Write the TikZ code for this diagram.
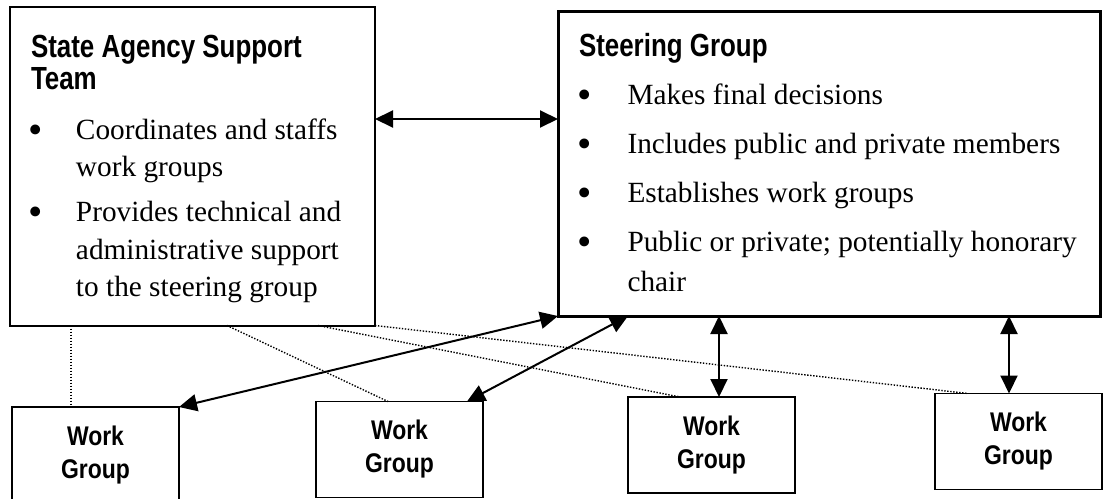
\documentclass[tikz,border=0pt]{standalone}
\usepackage{fontspec}
\setmainfont{Liberation Serif}
\newfontfamily\hfont[FakeStretch=0.81]{Liberation Sans}
\newfontfamily\wfont[FakeStretch=0.85]{Liberation Sans}
\usetikzlibrary{positioning,arrows.meta}

% text placement inside the two big boxes
\newlength{\headx}\newlength{\bulx}\newlength{\txtx}
\newcommand{\mybullet}{\raisebox{-4pt}{\scalebox{1.4}{\textbullet}}}
\newcommand{\head}[2]{\vskip#1\relax\hbox to\hsize{\smash{\kern\headx{\hfont\bfseries\fontsize{32pt}{32pt}\selectfont #2}}\hss}}
\newcommand{\bul}[2]{\vskip#1\relax\hbox to\hsize{\smash{\rlap{\kern\bulx\makebox[0pt][c]{\mybullet}}\kern\txtx #2}\hss}}
\newcommand{\cont}[2]{\vskip#1\relax\hbox to\hsize{\smash{\kern\txtx #2}\hss}}
\newcommand{\boxtext}[3]{\parbox[c][#2][t]{#1}{\offinterlineskip\fontsize{29.3pt}{38pt}\selectfont #3}}

\begin{document}
\begin{tikzpicture}[x=1pt, y=1pt, outer sep=0pt,
  bigbox/.style={draw, inner sep=0pt, anchor=north west},
  workbox/.style={draw, line width=1.5pt, minimum width=167pt, minimum height=96pt,
    align=center, font=\wfont\bfseries\fontsize{27pt}{33pt}\selectfont},
  dblarrow/.style={line width=2pt, {Triangle[length=18pt,width=17pt]}-{Triangle[length=18pt,width=17pt]}},
  dotline/.style={line width=1.4pt, dash pattern=on 1.4pt off 1.6pt}]
\useasboundingbox (0,0) rectangle (1103,-498);

\node[bigbox, line width=2pt] (support) at (10,-7) {\boxtext{365pt}{318.5pt}{%
  \setlength{\headx}{21pt}\setlength{\bulx}{25.7pt}\setlength{\txtx}{66pt}%
  \head{50.3pt}{State Agency Support}
  \head{32pt}{Team}
  \bul{50pt}{Coordinates and staffs}
  \cont{37.4pt}{work groups}
  \bul{45pt}{Provides technical and}
  \cont{37.5pt}{administrative support}
  \cont{37.5pt}{to the steering group}}};
\node[bigbox, line width=3pt] (steer) at (558,-11.5) {\boxtext{542.5pt}{304.5pt}{%
  \setlength{\headx}{21pt}\setlength{\bulx}{27pt}\setlength{\txtx}{69.5pt}%
  \head{44.6pt}{Steering Group}
  \bul{48.3pt}{Makes final decisions}
  \bul{49.3pt}{Includes public and private members}
  \bul{48.7pt}{Establishes work groups}
  \bul{49.3pt}{Public or private; potentially honorary}
  \cont{40.1pt}{chair}}};

\node[workbox] (wg1) at (95.5,-455) {Work\\Group};
\node[workbox] (wg2) at (399.5,-449.5) {Work\\Group};
\node[workbox] (wg3) at (711.5,-445) {Work\\Group};
\node[workbox] (wg4) at (1018.5,-441.5) {Work\\Group};

% dotted links from the support team
\draw[dotline] ([xshift=61pt]support.south west) -- ([xshift=61pt]support.south west |- wg1.north);
\draw[dotline] ([xshift=217pt]support.south west) -- ([xshift=-11.5pt]wg2.north);
\draw[dotline] ([xshift=308pt]support.south west) -- ([xshift=-31.5pt]wg3.north);
\draw[dotline] (support.south east) -- ([xshift=-50.5pt]wg4.north);

\draw[dblarrow] ([yshift=-112pt]support.north east) -- ([yshift=-112pt]support.north east -| steer.west);
\draw[dblarrow] (wg1.north east) -- (steer.south west);
\draw[dblarrow] ([xshift=-16pt]wg2.north east) -- ([xshift=70pt]steer.south west);
\draw[dblarrow] ([xshift=7.5pt]wg3.north) -- ([xshift=7.5pt]wg3.north |- steer.south);
\draw[dblarrow] ([xshift=-9.5pt]wg4.north) -- ([xshift=-9.5pt]wg4.north |- steer.south);
\end{tikzpicture}
\end{document}
